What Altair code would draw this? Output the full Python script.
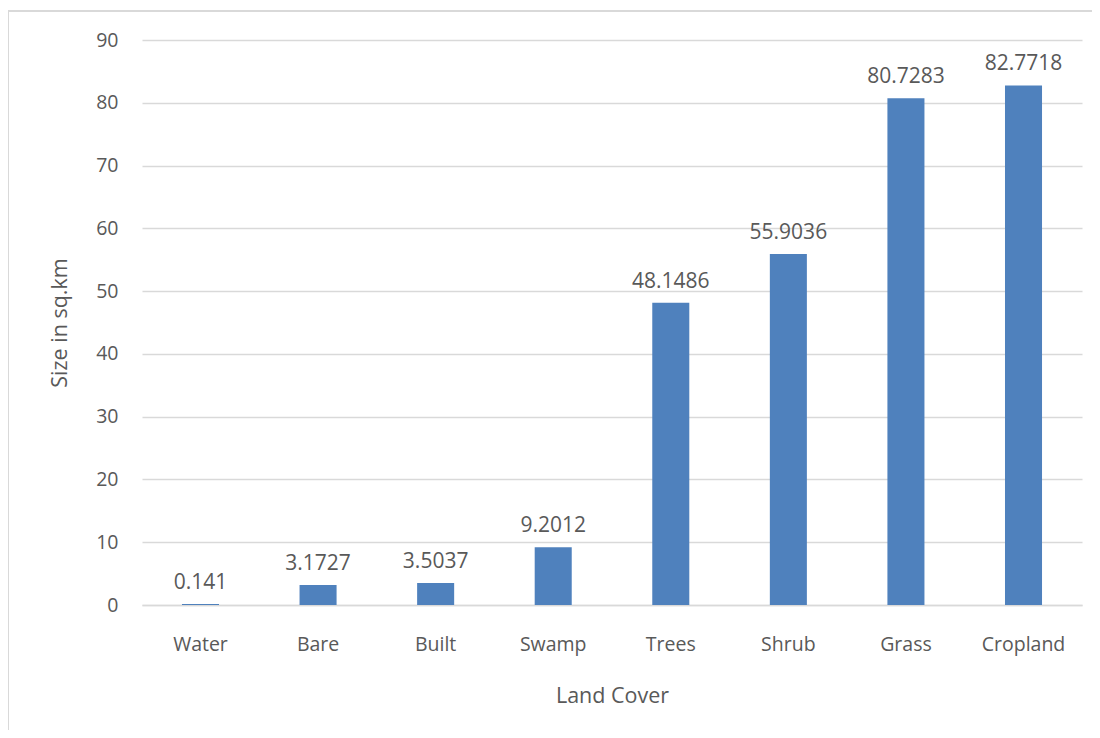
import altair as alt
import pandas as pd

categories = ["Water", "Bare", "Built", "Swamp", "Trees", "Shrub", "Grass", "Cropland"]
values = [0.141, 3.1727, 3.5037, 9.2012, 48.1486, 55.9036, 80.7283, 82.7718]
labels = ["0.141", "3.1727", "3.5037", "9.2012", "48.1486", "55.9036", "80.7283", "82.7718"]
y_ticks = [0, 10, 20, 30, 40, 50, 60, 70, 80, 90]

df = pd.DataFrame({"cat": categories, "val": values, "lab": labels})

FONT = "Open Sans"
GRAY = "#595959"
GRID = "#d9d9d9"

x = alt.X("cat:N", sort=categories, title="Land Cover",
          scale=alt.Scale(paddingInner=0.685, paddingOuter=0.34),
          axis=alt.Axis(labelAngle=0, ticks=False, domainColor=GRID, domainWidth=1.3,
                        labelPadding=30, titlePadding=32, labelFontSize=19.5,
                        titleFontSize=21.5, labelColor=GRAY, titleColor=GRAY,
                        labelFont=FONT, titleFont=FONT, titleFontWeight="normal"))
y = alt.Y("val:Q", title="Size in sq.km",
          scale=alt.Scale(domain=[0, 90], nice=False),
          axis=alt.Axis(values=y_ticks, ticks=False, domain=False, gridColor=GRID,
                        gridWidth=1.3, labelPadding=24, titlePadding=24,
                        labelFontSize=19.5, titleFontSize=21.5, labelColor=GRAY,
                        titleColor=GRAY, labelFont=FONT, titleFont=FONT,
                        titleFontWeight="normal"))

base = alt.Chart(df)
bars = base.mark_bar(color="#4f81bd").encode(x=x, y=y)
text = base.mark_text(baseline="bottom", dy=-11, fontSize=21, font=FONT, color=GRAY).encode(
    x=alt.X("cat:N", sort=categories), y="val:Q", text="lab:N")

border_left = alt.Chart(df).mark_rule(color=GRID, strokeWidth=1.5).encode(
    x=alt.value(-134), y=alt.value(-29), y2=alt.value(720))
border_top = alt.Chart(df).mark_rule(color=GRID, strokeWidth=1.5).encode(
    x=alt.value(-134), x2=alt.value(960), y=alt.value(-29))

chart = alt.layer(border_left, border_top, bars, text).properties(
    width=940, height=565,
    autosize=alt.AutoSizeParams(type="none"),
    padding={"left": 134, "top": 32, "right": 10, "bottom": 125},
).configure_view(stroke=None)

chart.save("out.html", embed_options={"renderer": "svg", "actions": False})
